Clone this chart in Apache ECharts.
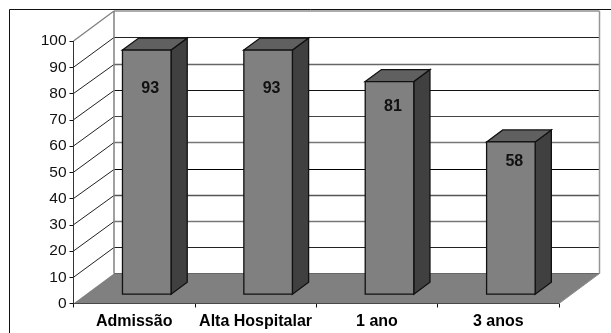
<!DOCTYPE html>
<html>
<head>
<meta charset="utf-8">
<style>html,body{margin:0;padding:0;background:#fff}#c{width:611px;height:333px}</style>
<script src="https://cdn.jsdelivr.net/npm/echarts@6/dist/echarts.min.js"></script>
</head>
<body>
<div id="c"></div>
<script>
const categories = ['Admissão', 'Alta Hospitalar', '1 ano', '3 anos'];
const values = [93, 93, 81, 58];
const gridTicks = [10, 20, 30, 40, 50, 60, 70, 80, 90, 100];
const gridShades = ['#222', '#777', '#555', '#000', '#777', '#444', '#111', '#666', '#222', '#888'];

// Oblique projection used for the floor, the walls and the columns
const DEPTH_X = 40.5;
const DEPTH_Y = 30;
const COLUMN_WIDTH = 0.4;      // share of a category band
const COLUMN_INSET = 0.31;     // share of the floor depth in front of a column
const COLUMN_DEPTH = 0.4;      // share of the floor depth used by a column
const LABEL_DROP = [36, 36, 23, 17]; // label distance below the column top
const FONT = '"Liberation Sans", Arial, sans-serif';

const chart = echarts.init(document.getElementById('c'));

function poly(points, fill, stroke, lineWidth) {
  return { type: 'polygon', shape: { points }, silent: true,
    style: { fill, stroke: stroke || 'none', lineWidth: lineWidth || 0, lineJoin: 'miter' } };
}
function seg(a, b, stroke, lineWidth) {
  return { type: 'line', shape: { x1: a[0], y1: a[1], x2: b[0], y2: b[1] }, silent: true,
    style: { stroke, lineWidth } };
}

function renderRoom(params, api) {
  const band = api.size([1, 0])[0];
  const first = api.coord([0, 0]);
  const last = api.coord([categories.length - 1, 0]);
  const x0 = first[0] - band / 2;
  const x1 = last[0] + band / 2;
  const y = v => api.coord([0, v])[1];
  const back = p => [p[0] + DEPTH_X, p[1] - DEPTH_Y];
  const children = [];

  // floor
  const fl = [x0, y(0)], fr = [x1, y(0)];
  children.push(poly([fl, fr, back(fr), back(fl)], '#808080'));
  children.push(seg(back(fl), back(fr), '#666', 1));
  children.push(seg(fr, back(fr), '#8c8c8c', 1));

  // value lines running along the side and the back wall
  gridTicks.forEach((v, i) => {
    if (v === 100) return;
    const p = [x0, y(v)];
    const by = Math.round(y(v) - DEPTH_Y) + 0.5;
    const grey = parseInt(gridShades[i].charAt(1), 16) > 4;
    children.push(seg(p, [p[0] + DEPTH_X, by], '#222', 1));
    children.push(seg([x0 + DEPTH_X, by], [x1 + DEPTH_X, by], gridShades[i], grey ? 1.5 : 1));
  });

  // wall outlines
  const tl = back([x0, y(100)]), tr = back([x1, y(100)]), bl = back(fl), br = back(fr);
  children.push(seg([x0, y(100)], tl, '#808080', 1.3));
  children.push(seg(tl, tr, '#909090', 1.3));
  children.push(seg(tl, bl, '#808080', 1.5));
  children.push(seg(tr, br, '#969696', 1.5));
  children.push(seg([x0, y(100)], fl, '#333', 1));
  return { type: 'group', children };
}

function renderColumn(params, api) {
  const idx = api.value(0);
  const val = api.value(1);
  const band = api.size([1, 0])[0];
  const w = band * COLUMN_WIDTH;
  const base = api.coord([idx, 0]);
  const top = api.coord([idx, val]);
  const sx = DEPTH_X * COLUMN_INSET, sy = DEPTH_Y * COLUMN_INSET;
  const dx = DEPTH_X * COLUMN_DEPTH, dy = DEPTH_Y * COLUMN_DEPTH;
  const l = base[0] + sx - w / 2, r = l + w;
  const b = base[1] - sy, t = top[1] - sy;
  const line = '#111';
  return {
    type: 'group',
    children: [
      poly([[r, t], [r + dx, t - dy], [r + dx, b - dy], [r, b]], '#404040', line, 1.3),
      poly([[l, t], [l + dx, t - dy], [r + dx, t - dy], [r, t]], '#606060', line, 1.3),
      poly([[l, t], [r, t], [r, b], [l, b]], '#808080', line, 1.3),
      { type: 'text', silent: true, x: (l + r) / 2 + 3.5, y: t + LABEL_DROP[idx] + 2.5,
        style: { text: String(val), font: 'bold 16px ' + FONT, fill: '#111',
          align: 'center', verticalAlign: 'middle' } }
    ]
  };
}

chart.setOption({
  animation: false,
  backgroundColor: '#fff',
  grid: { left: 73.5, right: 52, top: 41, bottom: 29.5, containLabel: false },
  xAxis: {
    type: 'category',
    data: categories,
    axisLine: { show: true, lineStyle: { color: '#111', width: 1 } },
    axisTick: { show: true, alignWithLabel: false, length: 4, lineStyle: { color: '#111' } },
    axisLabel: { interval: 0, margin: 10, color: '#000', fontFamily: FONT, fontWeight: 'bold', fontSize: 16 },
    splitLine: { show: false }
  },
  yAxis: {
    type: 'value', min: 0, max: 100, interval: 10,
    axisLine: { show: false },
    axisTick: { show: true, length: 4, lineStyle: { color: '#111' } },
    axisLabel: { margin: 7, color: '#111', fontFamily: FONT, fontSize: 15.5 },
    splitLine: { show: false }
  },
  graphic: [{
    type: 'polyline', silent: true, z: 0,
    shape: { points: [[9.5, 340], [9.5, 9.5], [620, 9.5]] },
    style: { fill: 'none', stroke: '#111', lineWidth: 1 }
  }],
  series: [
    { type: 'custom', name: 'room', silent: true, z: 1, clip: false, data: [[0, 0]],
      encode: { x: 0, y: 1 }, renderItem: renderRoom },
    { type: 'custom', name: 'columns', silent: true, z: 2, clip: false,
      data: values.map((v, i) => [i, v]),
      encode: { x: 0, y: 1 }, renderItem: renderColumn }
  ]
});
</script>
</body>
</html>
